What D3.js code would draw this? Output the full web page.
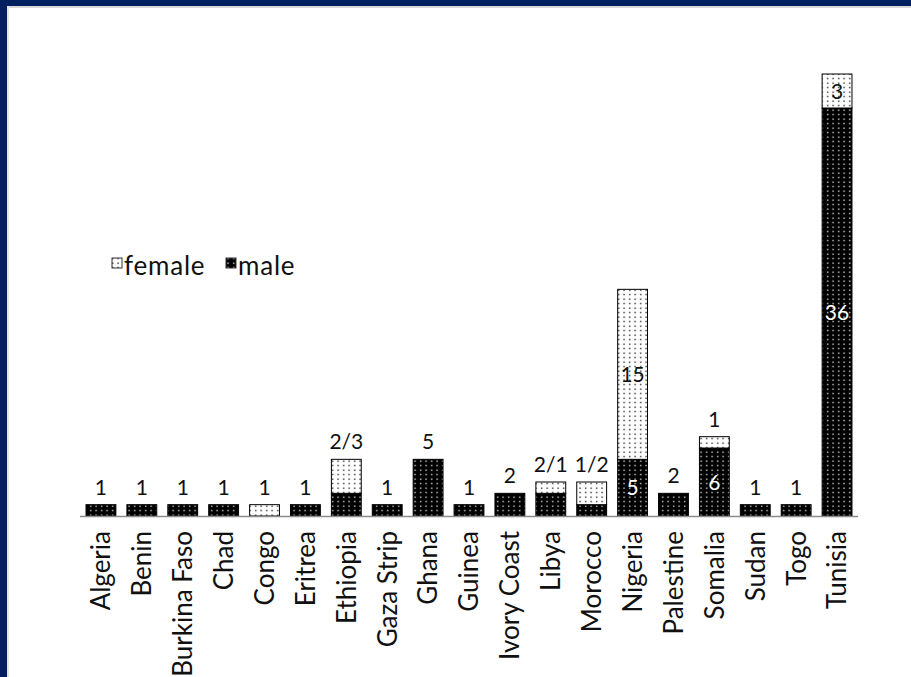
<!DOCTYPE html>
<html>
<head>
<meta charset="utf-8">
<script src="https://cdn.jsdelivr.net/npm/d3@7"></script>
<style>
  html, body { margin: 0; padding: 0; background: #fff; }
  svg { display: block; }
  text { font-family: Lato, "Open Sans", sans-serif; fill: #111; }
</style>
</head>
<body>
<script>
// Counts of people by country of origin, split by sex
const countries = ["Algeria", "Benin", "Burkina Faso", "Chad", "Congo", "Eritrea", "Ethiopia",
  "Gaza Strip", "Ghana", "Guinea", "Ivory Coast", "Libya", "Morocco", "Nigeria", "Palestine",
  "Somalia", "Sudan", "Togo", "Tunisia"];
const male   = [1, 1, 1, 1, 0, 1, 2, 1, 5, 1, 2, 2, 1, 5, 2, 6, 1, 1, 36];
const female = [0, 0, 0, 0, 1, 0, 3, 0, 0, 0, 0, 1, 2, 15, 0, 1, 0, 0, 3];
// How each bar is labelled: "top" = combined label above the bar, "inside" = each segment labelled in place
const labelMode = ["top", "top", "top", "top", "top", "top", "top", "top", "top", "top", "top",
  "top", "top", "inside", "top", "mixed", "top", "top", "inside"];
const seriesNames = ["female", "male"];

const W = 911, H = 677;
const svg = d3.select("body").append("svg").attr("width", W).attr("height", H);

// dotted fills
const defs = svg.append("defs");
const pm = defs.append("pattern").attr("id", "dotsMale").attr("patternUnits", "userSpaceOnUse")
  .attr("width", 5.5).attr("height", 4.5);
pm.append("rect").attr("width", 5.5).attr("height", 4.5).attr("fill", "#000");
pm.append("rect").attr("x", 2).attr("y", 1.5).attr("width", 1.3).attr("height", 1.3).attr("fill", "#fff");
const pf = defs.append("pattern").attr("id", "dotsFemale").attr("patternUnits", "userSpaceOnUse")
  .attr("width", 5.5).attr("height", 4.5);
pf.append("rect").attr("width", 5.5).attr("height", 4.5).attr("fill", "#fff");
pf.append("rect").attr("x", 2).attr("y", 1.5).attr("width", 1.3).attr("height", 1.3).attr("fill", "#000");

svg.append("rect").attr("width", W).attr("height", H).attr("fill", "#fff");

// frame along the top and left edges
svg.append("rect").attr("x", 0).attr("y", 0).attr("width", W).attr("height", 6).attr("fill", "#001f5f");
svg.append("rect").attr("x", 0).attr("y", 0).attr("width", 7).attr("height", H).attr("fill", "#001f5f");
svg.append("rect").attr("x", 7).attr("y", 6).attr("width", W - 7).attr("height", 2).attr("fill", "#d8d8d8");
svg.append("rect").attr("x", 7).attr("y", 6).attr("width", 2).attr("height", H - 6).attr("fill", "#e4e4e4");

const baseY = 516;
const x = d3.scaleBand().domain(countries).range([80.5, 857.5]).paddingInner(0.27).paddingOuter(0.135);
const y = d3.scaleLinear().domain([0, 39]).range([baseY, 74]);

const rows = countries.map((c, i) => ({ country: c, male: male[i], female: female[i], mode: labelMode[i] }));
const stack = d3.stack().keys(["male", "female"])(rows);
const fills = { male: "url(#dotsMale)", female: "url(#dotsFemale)" };

const g = svg.append("g");
stack.forEach(layer => {
  g.selectAll(null).data(layer.filter(d => d[1] > d[0])).join("rect")
    .attr("x", d => x(d.data.country))
    .attr("width", x.bandwidth())
    .attr("y", d => y(d[1]))
    .attr("height", d => y(d[0]) - y(d[1]))
    .attr("fill", fills[layer.key])
    .attr("stroke", "#000")
    .attr("stroke-width", 1);
});

// baseline
svg.append("line").attr("x1", 80).attr("x2", 858).attr("y1", baseY + 0.5).attr("y2", baseY + 0.5)
  .attr("stroke", "#8c8c8c").attr("stroke-width", 1.5);

// value labels
const lab = svg.append("g").attr("font-size", 21).attr("text-anchor", "middle");
rows.forEach(r => {
  const cx = x(r.country) + x.bandwidth() / 2;
  const top = y(r.male + r.female);
  if (r.mode === "top") {
    const txt = (r.male && r.female) ? r.male + "/" + r.female : String(r.male || r.female);
    lab.append("text").attr("x", cx).attr("y", top - 10).text(txt);
  } else {
    lab.append("text").attr("x", cx).attr("y", (y(0) + y(r.male)) / 2).attr("dy", "0.36em")
      .style("fill", "#fff").text(r.male);
    if (r.mode === "inside") {
      lab.append("text").attr("x", cx).attr("y", (y(r.male) + y(r.male + r.female)) / 2).attr("dy", "0.36em")
        .text(r.female);
    } else {
      lab.append("text").attr("x", cx).attr("y", top - 10).text(r.female);
    }
  }
});

// category axis, labels turned to read upwards
const axis = svg.append("g").attr("transform", `translate(0,${baseY})`)
  .call(d3.axisBottom(x).tickSize(0).tickPadding(0));
axis.select(".domain").remove();
axis.selectAll("text")
  .attr("font-size", 26)
  .style("font-family", "Lato, 'Open Sans', sans-serif")
  .attr("fill", "#111")
  .attr("text-anchor", "end")
  .attr("transform", "rotate(-90)")
  .attr("x", -15)
  .attr("y", 0)
  .attr("dy", "0.36em");

// legend
const leg = svg.append("g").attr("font-size", 26).attr("letter-spacing", 0.8);
const legItems = [{ key: "female", x: 112 }, { key: "male", x: 226 }];
legItems.forEach(it => {
  leg.append("rect").attr("x", it.x).attr("y", 258).attr("width", 10).attr("height", 10)
    .attr("fill", fills[it.key]).attr("stroke", "#333").attr("stroke-width", 1);
  leg.append("text").attr("x", it.x + 12).attr("y", 275).text(it.key);
});
</script>
</body>
</html>
